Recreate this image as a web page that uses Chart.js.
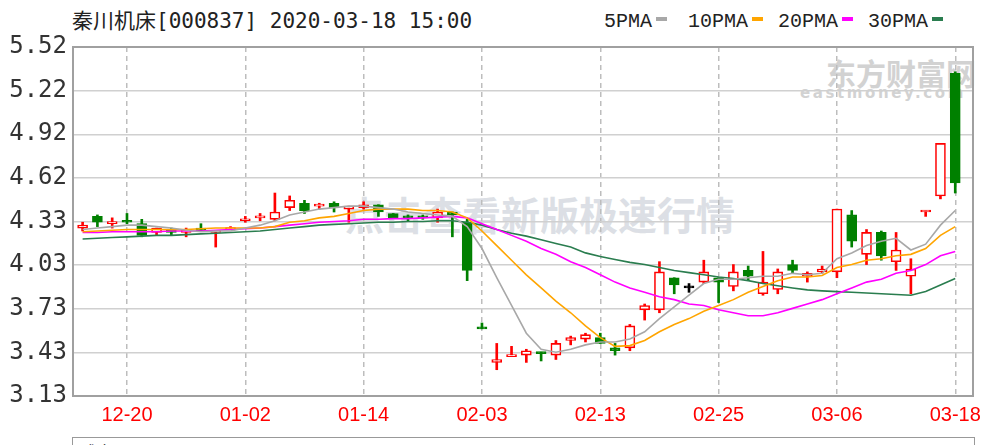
<!DOCTYPE html>
<html>
<head>
<meta charset="utf-8">
<script src="https://cdn.jsdelivr.net/npm/chart.js@4.4.1/dist/chart.umd.min.js"></script>
<style>
  html, body { margin: 0; padding: 0; background: #fff; }
  #wrap { position: relative; width: 989px; height: 445px; overflow: hidden; }
  #c { position: absolute; left: 0; top: 0; z-index: 2; }
  #title { position: absolute; left: 72px; top: 9px; font: 21px/24px "DejaVu Sans Mono", "Noto Sans CJK SC", monospace; color: #222; white-space: nowrap; }
  .lg { position: absolute; top: 11px; font: 20px/22px "Liberation Mono", monospace; color: #222; white-space: nowrap; }
  .lg i { display: inline-block; width: 11px; height: 4px; margin-left: 4px; vertical-align: 6px; }
  .wm { position: absolute; z-index: 1; white-space: nowrap; font-family: "Noto Sans CJK SC", sans-serif; font-weight: bold; }
  #vol { position: absolute; left: 72px; top: 437px; width: 901px; height: 40px; border: 1px solid #999; font: 16px "Noto Sans CJK SC", sans-serif; color: #222; }
  #vol span { position: absolute; left: 8px; top: 1px; }
</style>
</head>
<body>
<div id="wrap">
  <div id="title">秦川机床[000837] 2020-03-18 15:00</div>
  <div class="lg" style="left:604px">5PMA<i style="background:#a8a8a8"></i></div>
  <div class="lg" style="left:688px">10PMA<i style="background:#ffa500"></i></div>
  <div class="lg" style="left:778px">20PMA<i style="background:#ff00ff"></i></div>
  <div class="lg" style="left:868px">30PMA<i style="background:#2a7d4f"></i></div>
  <div class="wm" style="left:345px; top:185px; font-size:39px; color:#dcdfe5;">点击查看新版极速行情</div>
  <div class="wm" style="left:826px; top:50px; font-size:30px; color:#d2d2d2;">东方财富网</div>
  <div class="wm" style="left:800px; top:84px; font-size:15px; letter-spacing:2.6px; color:#d2d2d2; font-family:'DejaVu Sans', sans-serif;">eastmoney.com</div>
  <div id="vol"><span>成交量</span></div>
  <canvas id="c" width="989" height="445"></canvas>
</div>
<script>
const dates = ['12-17','12-18','12-19','12-20','12-23','12-24','12-25','12-26','12-27','12-30','12-31',
  '01-02','01-03','01-06','01-07','01-08','01-09','01-10','01-13','01-14','01-15','01-16','01-17','01-20','01-21','01-22','01-23',
  '02-03','02-04','02-05','02-06','02-07','02-10','02-11','02-12','02-13','02-14','02-17','02-18','02-19','02-20','02-21','02-24','02-25','02-26','02-27','02-28',
  '03-02','03-03','03-04','03-05','03-06','03-09','03-10','03-11','03-12','03-13','03-16','03-17','03-18'];

const open  = [4.28,4.36,4.31,4.33,4.31,4.25,4.26,4.25,4.28,4.25,4.27,4.33,4.35,4.34,4.42,4.45,4.43,4.45,4.41,4.42,
  4.44,4.38,4.36,4.36,4.35,4.39,4.32,3.60,3.36,3.40,3.41,3.43,3.41,3.51,3.52,3.53,3.46,3.46,3.72,3.72,
  3.94,3.87,3.91,3.94,3.88,3.99,3.83,3.86,4.03,3.95,3.98,3.98,4.37,4.10,4.25,4.05,3.95,4.39,4.50,5.34];
const high  = [4.32,4.37,4.35,4.38,4.34,4.28,4.28,4.28,4.31,4.26,4.29,4.36,4.38,4.52,4.50,4.47,4.45,4.46,4.43,4.46,
  4.44,4.38,4.37,4.37,4.41,4.39,4.34,3.63,3.49,3.47,3.45,3.43,3.51,3.54,3.56,3.56,3.49,3.62,3.76,4.05,
  3.94,3.90,4.06,3.94,4.03,4.02,4.12,4.00,4.06,3.98,4.02,4.41,4.40,4.27,4.26,4.25,4.07,4.40,4.86,5.35];
const low   = [4.26,4.29,4.28,4.31,4.22,4.23,4.23,4.22,4.26,4.15,4.27,4.32,4.33,4.33,4.40,4.38,4.41,4.39,4.32,4.41,
  4.36,4.35,4.33,4.34,4.32,4.22,3.92,3.59,3.31,3.40,3.36,3.37,3.38,3.48,3.50,3.49,3.41,3.44,3.65,3.70,
  3.83,3.84,3.90,3.77,3.85,3.92,3.82,3.83,3.97,3.91,3.97,3.94,4.15,4.03,4.06,3.99,3.83,4.36,4.48,4.52];
const close = [4.30,4.32,4.32,4.32,4.23,4.28,4.25,4.26,4.26,4.26,4.28,4.34,4.36,4.39,4.47,4.40,4.44,4.42,4.43,4.44,
  4.39,4.35,4.35,4.35,4.39,4.37,3.99,3.59,3.38,3.41,3.44,3.42,3.49,3.53,3.55,3.49,3.44,3.61,3.75,3.98,
  3.89,3.87,3.98,3.91,3.98,3.95,3.91,3.98,3.99,3.97,4.00,4.41,4.19,4.25,4.09,4.13,4.00,4.40,4.86,4.59];

const ma5  = [4.27,4.28,4.29,4.30,4.30,4.29,4.28,4.265,4.255,4.26,4.26,4.28,4.30,4.33,4.37,4.39,4.41,4.42,4.43,4.43,
  4.42,4.41,4.39,4.38,4.37,4.36,4.29,4.14,3.94,3.75,3.56,3.45,3.43,3.45,3.48,3.50,3.50,3.52,3.57,3.66,
  3.74,3.82,3.90,3.93,3.93,3.94,3.95,3.95,3.97,3.96,3.97,4.07,4.11,4.16,4.19,4.21,4.13,4.17,4.30,4.40];
const ma10 = [4.255,4.26,4.265,4.27,4.27,4.27,4.27,4.27,4.275,4.28,4.28,4.28,4.28,4.29,4.32,4.33,4.35,4.36,4.38,4.40,
  4.41,4.41,4.41,4.40,4.40,4.39,4.35,4.26,4.16,4.06,3.96,3.87,3.78,3.70,3.61,3.53,3.47,3.475,3.51,3.57,
  3.62,3.66,3.71,3.75,3.79,3.84,3.88,3.92,3.945,3.945,3.955,4.01,4.03,4.06,4.07,4.09,4.10,4.14,4.23,4.29];
const ma20 = [4.25,4.25,4.255,4.255,4.255,4.255,4.26,4.26,4.26,4.265,4.27,4.275,4.28,4.29,4.30,4.31,4.32,4.325,4.33,4.34,
  4.34,4.345,4.345,4.35,4.355,4.36,4.35,4.31,4.27,4.23,4.19,4.14,4.10,4.05,4.01,3.96,3.91,3.87,3.84,3.81,
  3.79,3.76,3.75,3.72,3.70,3.68,3.68,3.70,3.73,3.76,3.79,3.83,3.87,3.91,3.93,3.97,3.99,4.03,4.09,4.12];
const ma30 = [4.205,4.21,4.215,4.22,4.225,4.23,4.23,4.235,4.24,4.245,4.25,4.255,4.26,4.27,4.28,4.29,4.30,4.305,4.31,4.315,
  4.32,4.32,4.325,4.325,4.33,4.33,4.32,4.30,4.27,4.245,4.225,4.20,4.175,4.15,4.11,4.085,4.065,4.045,4.03,4.01,
  3.99,3.975,3.96,3.945,3.935,3.92,3.90,3.885,3.87,3.857,3.85,3.845,3.84,3.835,3.83,3.825,3.82,3.845,3.89,3.935];

const xTickLabels = ['12-20','01-02','01-14','02-03','02-13','02-25','03-06','03-18'];
const yTickLabels = ['3.13','3.43','3.73','4.03','4.33','4.62','4.92','5.22','5.52'];

const yMin = 3.13, yMax = 5.52;
const xTickIdx = xTickLabels.map(t => dates.indexOf(t));

function candleColor(i) {
    if (close[i] > open[i]) return '#ff0000';
    if (close[i] < open[i]) return '#008000';
    return '#000000';
}

const pts = arr => arr.map((v, i) => ({x: i, y: v}));

function maLine(label, arr, color) {
    return {
        type: 'line',
        label: label,
        data: pts(arr),
        borderColor: color,
        borderWidth: 1.6,
        pointRadius: 0,
        tension: 0,
        fill: false,
        order: 0
    };
}

// 外框
const frame = {
    id: 'frame',
    afterDatasetsDraw(chart) {
        const {ctx, chartArea: a} = chart;
        ctx.save();
        ctx.strokeStyle = '#a0a0a0';
        ctx.lineWidth = 2;
        ctx.strokeRect(a.left, a.top, a.right - a.left, a.bottom - a.top);
        ctx.restore();
    }
};

const chart = new Chart(document.getElementById('c'), {
    type: 'bar',
    data: {
        datasets: [
            maLine('5PMA', ma5, '#a8a8a8'),
            maLine('10PMA', ma10, '#ffa500'),
            maLine('20PMA', ma20, '#ff00ff'),
            maLine('30PMA', ma30, '#2a7d4f'),
            {
                label: 'body',
                data: dates.map((d, i) => ({x: i, y: [open[i], close[i]]})),
                backgroundColor: dates.map((d, i) => close[i] > open[i] ? '#ffffff' : candleColor(i)),
                borderColor: dates.map((d, i) => candleColor(i)),
                borderWidth: 1.6,
                borderSkipped: false,
                barThickness: 10,
                minBarLength: 2,
                grouped: false,
                order: 1
            },
            {
                label: 'wick',
                data: dates.map((d, i) => ({x: i, y: [low[i], high[i]]})),
                backgroundColor: dates.map((d, i) => candleColor(i)),
                borderWidth: 0,
                barThickness: 2,
                grouped: false,
                order: 2
            }
        ]
    },
    options: {
        responsive: false,
        animation: false,
        layout: { padding: { top: 47, right: 16, bottom: 0, left: 0 } },
        plugins: {
            legend: { display: false },
            tooltip: { enabled: false },
            title: { display: false }
        },
        scales: {
            x: {
                type: 'linear',
                offset: false,
                min: -0.65,
                max: 60.2,
                afterBuildTicks: s => { s.ticks = xTickIdx.map(v => ({value: v})); },
                afterFit: s => { s.height = 49; },
                ticks: {
                    autoSkip: false,
                    maxRotation: 0,
                    padding: 7,
                    color: '#ff0000',
                    font: { family: 'Liberation Sans', size: 20 },
                    callback: v => dates[v]
                },
                grid: { offset: false, color: '#bdbdbd', lineWidth: 1.5, drawTicks: false },
                border: { display: false, dash: [5, 4] }
            },
            y: {
                min: yMin,
                max: yMax,
                afterBuildTicks: s => {
                    s.ticks = yTickLabels.map((t, i) => ({value: yMin + i * (yMax - yMin) / (yTickLabels.length - 1)}));
                },
                afterFit: s => { s.width = 73; },
                ticks: {
                    padding: 6,
                    color: '#333',
                    font: { family: 'DejaVu Sans Mono', size: 24 },
                    callback: (v, i) => yTickLabels[i]
                },
                grid: { color: '#d0d0d0', lineWidth: 1.5, drawTicks: false },
                border: { display: false }
            }
        }
    },
    plugins: [frame]
});
</script>
</body>
</html>
